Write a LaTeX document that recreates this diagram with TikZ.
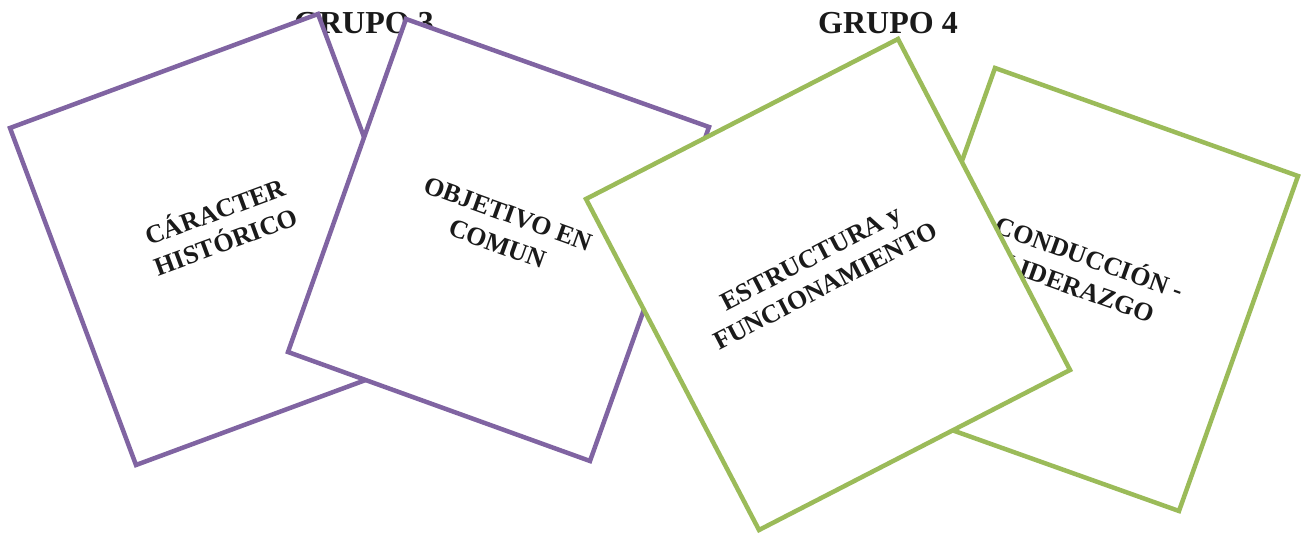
\documentclass[tikz,border=0pt]{standalone}
\usepackage{fontspec}
\setmainfont{Liberation Serif}
\definecolor{cardpurple}{HTML}{8064A2}
\definecolor{cardgreen}{HTML}{9BBB59}
\definecolor{inkgray}{HTML}{1A1A1A}
\tikzset{
  purplecard/.style={draw=cardpurple,fill=white,line width=4.5pt},
  greencard/.style={draw=cardgreen,fill=white,line width=4.5pt},
  cardtext/.style={font=\fontsize{26}{32}\selectfont\bfseries,align=center,text=inkgray},
  grouptitle/.style={font=\fontsize{32}{36}\selectfont\bfseries,text=inkgray}
}
\begin{document}
\begin{tikzpicture}[x=1pt,y=1pt]
\tikzstyle{every node}+=[inner sep=0pt]
\useasboundingbox (0,0) rectangle (1305,-534);
\node [grouptitle,anchor=base] (grupo3) at (364,-34) {GRUPO 3};
\node [grouptitle,anchor=base] (grupo4) at (888,-34) {GRUPO 4};
\draw [purplecard] (10,-128) -- (318,-14) -- (444,-351) -- (136,-465) -- cycle;
\node [cardtext,rotate=20.3] (historico) at (220,-225) {CÁRACTER\\HISTÓRICO};
\draw [purplecard] (406,-19) -- (709,-127) -- (590,-461) -- (288,-352) -- cycle;
\node [cardtext,rotate=-19.8] (objetivo) at (503,-229) {OBJETIVO EN\\COMUN};
\draw [greencard] (995,-68) -- (1298,-176) -- (1179,-511) -- (876,-403) -- cycle;
\node [cardtext,rotate=-19.8] (conduccion) at (1085,-271) {CONDUCCIÓN -\\LIDERAZGO};
\draw [greencard] (586,-199) -- (898,-39) -- (1070,-370) -- (759,-530) -- cycle;
\node [cardtext,rotate=27.4] (estructura) at (818,-272) {ESTRUCTURA y\\FUNCIONAMIENTO};
\end{tikzpicture}
\end{document}
